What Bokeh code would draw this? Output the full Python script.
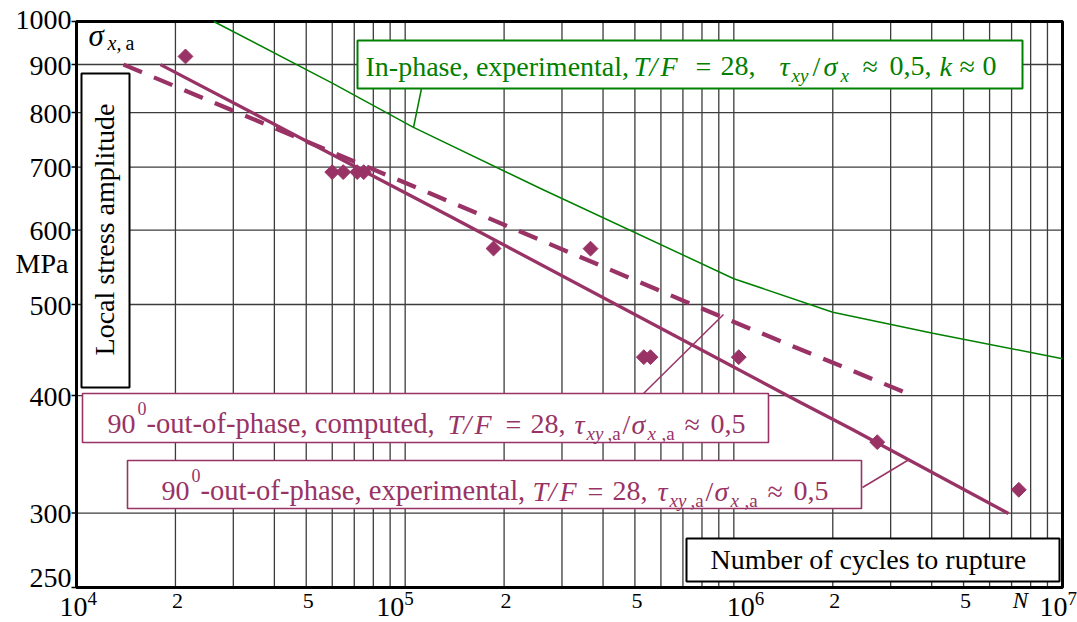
import math
from bokeh.plotting import figure
from bokeh.models import Label, BoxAnnotation, Range1d
from bokeh.embed import file_html
from bokeh.resources import INLINE

# ---------------- data ----------------
# 90°-out-of-phase, experimental points (cycles, local stress amplitude MPa)
exp_pts_cycles = [21460, 59980, 64790, 71450, 74820, 185700, 366400, 532200, 557800, 1035000, 2731000, 7362000]
exp_pts_sigma = [918, 691.5, 691.5, 691.5, 691.5, 573.5, 573.3, 439.5, 439.5, 439.5, 356.9, 317.6]
# 90°-out-of-phase, experimental curve
exp_cycles = [18010, 137300, 1595000, 2265000, 6849000]
exp_sigma = [899.8, 620.3, 393.3, 369.0, 299.7]
# 90°-out-of-phase, computed curve
comp_cycles = [13900, 119400, 910900, 3329000]
comp_sigma = [899.8, 656.2, 485.6, 402.9]
# In-phase, experimental curve
inph_cycles = [26150, 60000, 106000, 258100, 1000000, 2000000, 4031000, 10000000]
inph_sigma = [1000, 860, 771.7, 664.3, 532.6, 490.7, 466.0, 437.8]

x_min, x_max = 1e4, 1e7
y_min, y_max = 250, 1000
y_ticks = [250, 300, 400, 500, 600, 700, 800, 900, 1000]
y_grid = [300, 400, 500, 600, 700, 800, 900]
x_grid = [m * 10 ** k for k in (4, 5, 6) for m in range(1, 10)][1:]
minor_x_labels = [(2e4, "2"), (5e4, "5"), (2e5, "2"), (5e5, "5"), (2e6, "2"), (5e6, "5")]
decade_x_labels = [(1e4, "4"), (1e5, "5"), (1e6, "6"), (1e7, "7")]

PURPLE = "#993366"
GREEN = "#008000"
FONT = "Liberation Serif"

# ---------------- layout: plot area in page pixels ----------------
W, H = 1077, 622
FX0, FX1 = 76, 1062
FY0, FY1 = 21, 587
LX0, LX1 = math.log10(x_min), math.log10(x_max)
LY0, LY1 = math.log10(y_min), math.log10(y_max)


def X(px):
    return 10 ** (LX0 + (LX1 - LX0) * (px - FX0) / (FX1 - FX0))


def Y(py):
    return 10 ** (LY1 - (LY1 - LY0) * (py - FY0) / (FY1 - FY0))


def PX(x):
    return FX0 + (math.log10(x) - LX0) / (LX1 - LX0) * (FX1 - FX0)


def PY(y):
    return FY0 + (LY1 - math.log10(y)) / (LY1 - LY0) * (FY1 - FY0)


p = figure(width=W, height=H, x_axis_type="log", y_axis_type="log",
           x_axis_location=None, y_axis_location=None,
           x_range=Range1d(X(0), X(W)), y_range=Range1d(Y(H), Y(0)),
           output_backend="svg", toolbar_location=None, title=None,
           min_border=0, min_border_left=0, min_border_right=0,
           min_border_top=0, min_border_bottom=0)
p.background_fill_color = "white"
p.border_fill_color = "white"
p.outline_line_color = None
p.grid.visible = False

# grid
n, m = len(x_grid), len(y_grid)
p.segment(x0=x_grid, y0=[y_min] * n, x1=x_grid, y1=[y_max] * n,
          line_color="#3c3c3c", line_width=1.3)
p.segment(x0=[x_min] * m, y0=y_grid, x1=[x_max] * m, y1=y_grid,
          line_color="#3c3c3c", line_width=1.3)
# y tick marks (outward, 5 px)
k = len(y_ticks)
p.segment(x0=[X(FX0 - 5)] * k, y0=y_ticks, x1=[x_min] * k, y1=y_ticks,
          line_color="black", line_width=1.5)
# plot frame
p.quad(left=[x_min], right=[x_max], bottom=[y_min], top=[y_max],
       fill_color=None, line_color="black", line_width=3)

# curves
p.line(inph_cycles, inph_sigma, line_color=GREEN, line_width=1.5)
p.line(comp_cycles, comp_sigma, line_color=PURPLE, line_width=4.3, line_dash="20 13")
p.line(exp_cycles, exp_sigma, line_color=PURPLE, line_width=3.3)
p.scatter(exp_pts_cycles, exp_pts_sigma, marker="square", angle=math.pi / 4, size=10.5,
          fill_color=PURPLE, line_color=PURPLE)

# leader lines
p.line([X(421), X(413)], [Y(88), Y(127)], line_color=GREEN, line_width=1.5)
p.line([X(643), X(723)], [Y(393), Y(314)], line_color=PURPLE, line_width=1.5)
p.line([X(862), X(907)], [Y(487), Y(460)], line_color=PURPLE, line_width=1.5)


def box(l, r, t, b, color, lw=2):
    p.add_layout(BoxAnnotation(left=X(l), right=X(r), top=Y(t), bottom=Y(b),
                               fill_color="white", fill_alpha=1.0,
                               line_color=color, line_alpha=1.0, line_width=lw))


def txt(s, px, py, size=28, style="normal", color="black", align="left",
        baseline="alphabetic", angle=0.0):
    # (px, py) is the alphabetic baseline point; convert to a 'middle' anchor
    if baseline == "alphabetic":
        d = 0.3375 * size
        px = px - d * math.sin(angle)
        py = py - d * math.cos(angle)
        baseline = "middle"
    p.add_layout(Label(x=X(px), y=Y(py), text=s, text_font=FONT,
                       text_font_size=f"{size}px", text_font_style=style,
                       text_color=color, text_align=align,
                       text_baseline=baseline, angle=angle))


box(357, 1022, 40, 88, GREEN)
box(82, 768, 393, 442, PURPLE, 1.6)
box(127, 861, 460, 508, PURPLE, 1.6)
box(686, 1059, 538, 581, "black")
box(81, 129, 73, 387, "black")

# y tick labels
for v in y_ticks:
    if v == 250:
        txt(str(v), 71, 587, align="right")
    elif v == 1000:
        txt(str(v), 71, 19, align="right", baseline="middle")
    else:
        txt(str(v), 71, PY(v) + 1, align="right", baseline="middle")
txt("MPa", 68, 272, align="right")

# x tick labels
for v, s in minor_x_labels:
    txt(s, PX(v) + 2, 608, size=22, align="center")
dec_join = {1e4: 11, 1e5: -1, 1e6: 21, 1e7: 5}
for v, s in decade_x_labels:
    j = PX(v) + dec_join[v]
    txt("10", j, 616, size=28, align="right")
    txt(s, j, 604, size=19)
txt("N", 1020, 608, size=23, style="italic", align="center")

# sigma_x,a
txt("\u03c3", 88, 45, size=31, style="italic")
txt("x,", 107, 49, size=20, style="italic")
txt("a", 125, 49, size=20)

# Local stress amplitude (vertical)
txt("Local stress amplitude", 113, 229, align="center", angle=math.pi / 2)

# Number of cycles to rupture
txt("Number of cycles to rupture", 710, 568)

# green legend text
gb, gs = 75, 81
for s, x, st in [("In-phase, experimental,", 365, "normal"), ("T", 633, "italic"),
                 ("/", 649, "italic"), ("F", 660, "italic"),
                 ("=", 695, "normal"), ("28,", 720, "normal"), ("\u03c4", 779, "italic"),
                 ("/", 812, "normal"), ("\u03c3", 823, "italic"), ("\u2248", 862, "normal"),
                 ("0,5,", 889, "normal"), ("k", 939, "italic"), ("\u2248", 959, "normal"),
                 ("0", 982, "normal")]:
    txt(s, x, gb, style=st, color=GREEN)
txt("xy", 791, gs, size=19, style="italic", color=GREEN)
txt("x", 840, gs, size=19, style="italic", color=GREEN)


def purple_text(x0, base, word, toks):
    txt("90", x0, base, color=PURPLE)
    txt("0", x0 + 30, base - 19, size=18, color=PURPLE)
    txt(word, x0 + 39, base, size=28.6, color=PURPLE)
    for s, x, st, kind in toks:
        if kind == "sub":
            txt(s, x, base + 6, size=19, style=st, color=PURPLE)
        else:
            txt(s, x, base, style=st, color=PURPLE)


purple_text(107, 433, "-out-of-phase, computed,", [
    ("T", 447, "italic", "m"), ("/", 463, "italic", "m"), ("F", 474, "italic", "m"),
    ("=", 505, "normal", "m"), ("28,", 530, "normal", "m"),
    ("\u03c4", 574, "italic", "m"), ("xy", 586, "italic", "sub"), (",a", 607, "normal", "sub"),
    ("/", 622, "normal", "m"), ("\u03c3", 631, "italic", "m"), ("x", 647, "italic", "sub"),
    (",a", 661, "normal", "sub"), ("\u2248", 684, "normal", "m"), ("0,5", 710, "normal", "m")])
purple_text(161, 500, "-out-of-phase, experimental,", [
    ("T", 532, "italic", "m"), ("/", 548, "italic", "m"), ("F", 559, "italic", "m"),
    ("=", 587, "normal", "m"), ("28,", 612, "normal", "m"),
    ("\u03c4", 657, "italic", "m"), ("xy", 669, "italic", "sub"), (",a", 690, "normal", "sub"),
    ("/", 705, "normal", "m"), ("\u03c3", 714, "italic", "m"), ("x", 730, "italic", "sub"),
    (",a", 744, "normal", "sub"), ("\u2248", 767, "normal", "m"), ("0,5", 793, "normal", "m")])

open("out.html", "w").write(file_html(p, INLINE))
